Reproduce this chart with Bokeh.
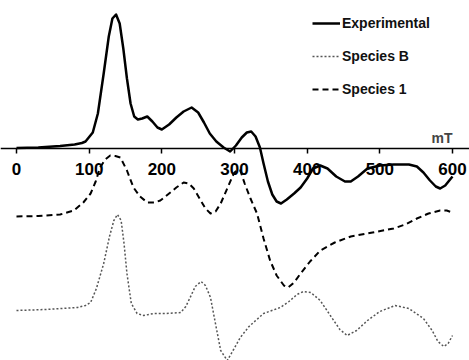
from bokeh.plotting import figure
from bokeh.models import Range1d, LinearAxis, FixedTicker, Legend, LegendItem, Label
from bokeh.embed import file_html
from bokeh.resources import INLINE

# Magnetic field (mT) and signal (arbitrary units)
exp_x = [0, 30, 60, 80, 90, 95, 105, 112, 120, 127, 132, 137, 142, 147, 152, 157, 162, 167, 173,
         180, 187, 194, 200, 210, 220, 230, 241, 250, 258, 266, 275, 285, 294, 302, 310, 317, 323,
         329, 335, 340, 346, 352, 358, 364, 372, 382, 391, 400, 408, 418, 428, 440, 452, 460, 470,
         483, 500, 519, 540, 551, 560, 569, 577, 583, 590, 600]
exp_y = [0.5, 1, 2.5, 4, 5.5, 7, 16, 35, 75, 112, 130, 134, 125, 100, 70, 45, 32, 29, 30,
         32, 27, 21, 19, 24, 31, 37, 41, 36, 26, 15, 7, 1, -3, 3, 11, 16, 17,
         12, 1, -15, -33, -46, -53, -55, -51, -45, -39, -30, -20, -17, -20, -28, -33, -33, -28,
         -20, -17, -16, -16, -18, -24, -32, -38, -40, -37, -28]

sp1_x = [0, 30, 60, 79, 92, 102, 109, 115, 122, 129, 136, 143, 152, 161, 170, 180, 190, 198, 210,
         220, 230, 237, 244, 252, 260, 267, 274, 281, 290, 299, 304, 308, 314, 322, 331, 340, 349,
         358, 368, 374, 382, 391, 404, 418, 438, 460, 490, 519, 535, 551, 567, 583, 592, 600]
sp1_y = [-68, -67.5, -66, -62, -54, -45, -33, -19, -11, -7, -7.5, -9, -22, -39, -48, -54, -54, -52, -45,
         -39, -34, -35, -40, -50, -60, -65, -63, -55, -40, -25, -21, -22, -35, -50, -65, -90, -112,
         -127, -137, -139, -134, -125, -113, -102, -94, -88, -84, -80, -76, -70, -65, -62, -62, -64]

spb_x = [0, 40, 84, 95, 102, 110, 120, 128, 134, 139, 144, 148, 152, 158, 166, 175, 189, 205, 226,
         233, 239, 246, 254, 260, 267, 273, 281, 290, 298, 308, 320, 340, 363, 375, 386, 395, 405,
         418, 430, 445, 455, 468, 483, 500, 521, 540, 560, 572, 580, 588, 594, 600]
spb_y = [-162, -161, -159, -157, -154, -140, -115, -88, -72, -66, -72, -95, -125, -155, -165, -167, -165, -165, -164,
         -158, -149, -138, -133, -137, -149, -172, -202, -212, -202, -189, -178, -165, -159, -153, -146, -143, -144,
         -152, -165, -181, -187, -182, -172, -163, -157, -160, -170, -182, -193, -198, -195, -187]

tick_values = [0, 100, 200, 300, 400, 500, 600]
legend_labels = ["Experimental", "Species B", "Species 1"]
axis_unit = "mT"

p = figure(width=469, height=360, output_backend="svg", toolbar_location=None,
           x_range=Range1d(-22, 623.4), y_range=Range1d(-212, 148),
           x_axis_location=None, y_axis_location=None, min_border=0)
p.outline_line_color = None
p.grid.visible = False
p.background_fill_color = "white"

ax = LinearAxis(fixed_location=0, ticker=FixedTicker(ticks=tick_values))
ax.axis_line_color = "black"
ax.axis_line_width = 1.5
ax.major_tick_in = 0
ax.major_tick_out = 5
ax.major_tick_line_width = 1.5
ax.minor_tick_line_color = None
ax.major_label_standoff = 9
ax.major_label_text_font = "Liberation Sans"
ax.major_label_text_font_style = "bold"
ax.major_label_text_font_size = "17px"
ax.major_label_text_color = "black"
p.add_layout(ax, "below")

r_exp = p.line(exp_x, exp_y, line_color="black", line_width=2.5, line_join="round")
r_b = p.line(spb_x, spb_y, line_color="#555555", line_width=1.5, line_dash="2 2", line_join="round")
r_1 = p.line(sp1_x, sp1_y, line_color="black", line_width=2, line_dash="6 4", line_join="round")

p.add_layout(Label(x=600, y=3, text=axis_unit, text_align="right", text_baseline="bottom",
                   text_font="Liberation Sans", text_font_style="bold", text_font_size="14px"))

legend = Legend(items=[LegendItem(label=legend_labels[0], renderers=[r_exp]),
                       LegendItem(label=legend_labels[1], renderers=[r_b]),
                       LegendItem(label=legend_labels[2], renderers=[r_1])],
                location=(312, 261), margin=0, padding=0, spacing=13,
                glyph_width=28, glyph_height=20, label_height=20, label_standoff=2,
                label_text_font="Liberation Sans", label_text_font_style="bold",
                label_text_font_size="14px", label_text_color="#111111",
                border_line_color=None, background_fill_alpha=0)
p.add_layout(legend, "center")

open("out.html", "w").write(file_html(p, INLINE))
